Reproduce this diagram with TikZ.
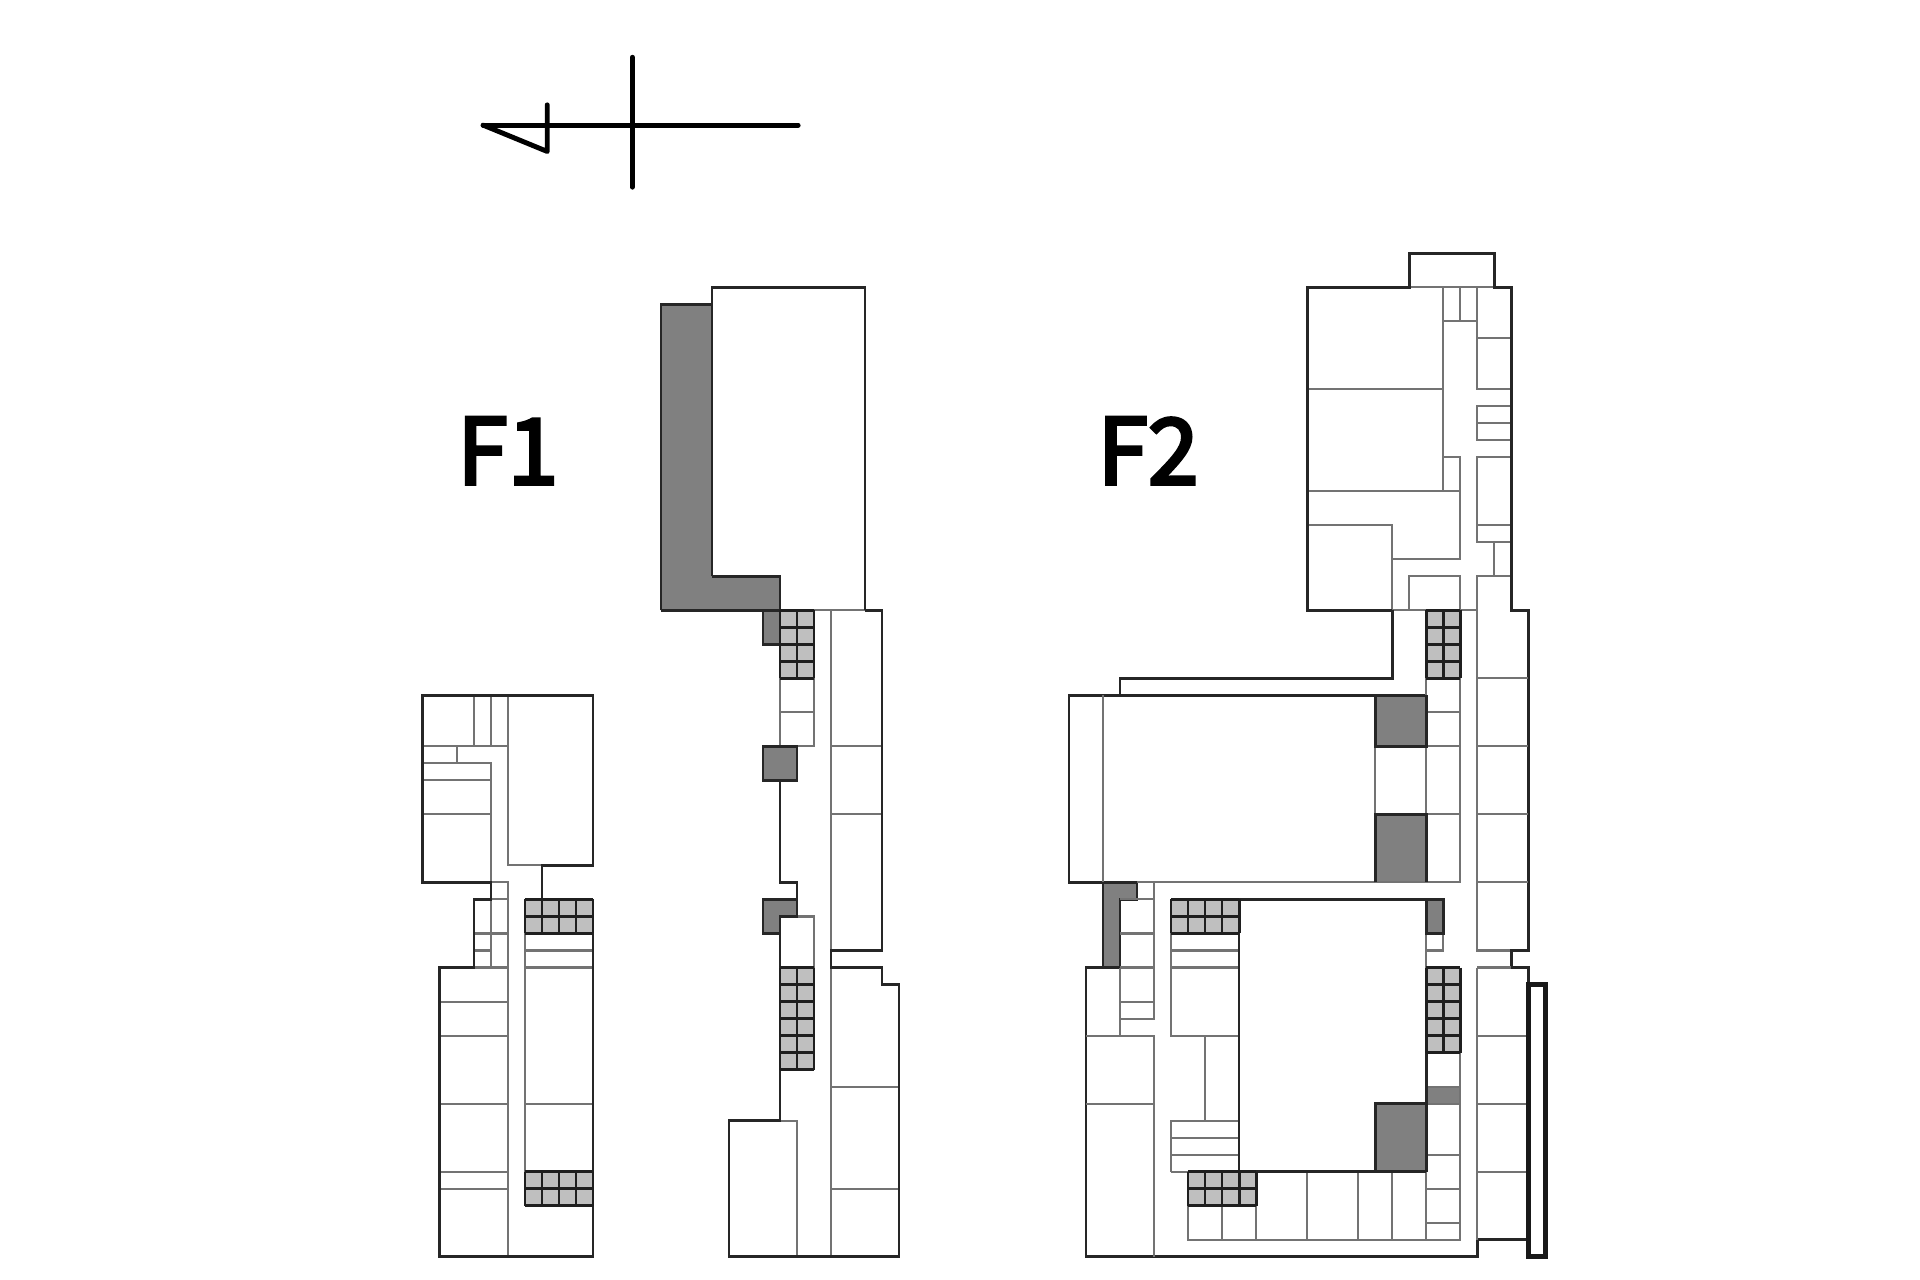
\documentclass[tikz,border=0pt]{standalone}
\usepackage{fontspec}
\newfontfamily\planfont[FakeBold=3.6]{Noto Sans CJK JP}
\usepackage{xcolor}
\definecolor{darkroom}{gray}{0.5}
\definecolor{stairroom}{gray}{0.75}
\tikzset{
  wall/.style={line width=0.7pt,black!85},
  part/.style={line width=0.57pt,black!55},
  stairline/.style={line width=0.72pt,black!88},
  northline/.style={line width=1.4pt,black,line cap=round,line join=round},
  floorlabel/.style={font=\planfont\fontsize{26}{26}\selectfont,inner sep=0pt}
}

\begin{document}
\begin{tikzpicture}[x=1.701mm,y=-1.7mm]
  \useasboundingbox (-24.85,-14.91) rectangle (88.02,60.38);
  % rumbo
  \begin{scope}
    \coordinate (ntip) at (3.55,-7.55);
    \draw[northline] (ntip) -- (22.07,-7.55);
    \draw[northline] (12.32,-11.54) -- (12.32,-3.9);
    \draw[northline] (7.32,-8.74) -- (7.32,-6) -- (ntip);
  \end{scope}
  \node[floorlabel] (floorone) at (5,11.6) {F1};
  \node[floorlabel] (floortwo) at (42.64,11.6) {F2};
  % salas oscuras
  \foreach \p in {
    {(14,3) -- (17,3) -- (17,19) -- (21,19) -- (21,21) -- (14,21) -- cycle},
    {(20,21) -- (21,21) -- (21,23) -- (20,23) -- cycle},
    {(20,29) -- (22,29) -- (22,31) -- (20,31) -- cycle},
    {(20,38) -- (22,38) -- (22,39) -- (21,39) -- (21,40) -- (20,40) -- cycle},
    {(56,26) -- (59,26) -- (59,29) -- (56,29) -- cycle},
    {(56,33) -- (59,33) -- (59,37) -- (56,37) -- cycle},
    {(40,37) -- (42,37) -- (42,38) -- (41,38) -- (41,42) -- (40,42) -- cycle},
    {(59,38) -- (60,38) -- (60,40) -- (59,40) -- cycle},
    {(56,50) -- (59,50) -- (59,54) -- (56,54) -- cycle},
    {(59,49) -- (61,49) -- (61,50) -- (59,50) -- cycle}}{
    \fill[darkroom] \p;
  }
  % F1, ala izquierda
  \begin{scope}
    \draw[part] (3,26) -- (3,29);
    \draw[part] (4,26) -- (4,29);
    \draw[part] (5,26) -- (5,36) -- (7,36);
    \draw[part] (0,29) -- (5,29);
    \draw[part] (2,29) -- (2,30);
    \draw[part] (0,30) -- (4,30) -- (4,42);
    \draw[part] (0,31) -- (4,31);
    \draw[part] (0,33) -- (4,33);
    \draw[part] (4,37) -- (5,37) -- (5,59);
    \draw[part] (4,38) -- (5,38);
    \draw[part] (3,40) -- (5,40);
    \draw[part] (3,41) -- (4,41);
    \foreach \y in {42,44,46,50,54,55}{
      \draw[part] (1,\y) -- (5,\y);
    }
    \draw[part] (6,40) -- (6,54);
    \foreach \y in {41,42,50}{
      \draw[part] (6,\y) -- (10,\y);
    }
    \draw[wall] (7,38) -- (7,36) -- (10,36) -- (10,26) -- (0,26) -- (0,37) -- (4,37)
      -- (4,38) -- (3,38) -- (3,42) -- (1,42) -- (1,59) -- (10,59) -- (10,38);
  \end{scope}
  % F1, ala derecha
  \begin{scope}
    \draw[part] (23,21) -- (26,21);
    \draw[part] (21,25) -- (21,29) -- (23,29) -- (23,25);
    \draw[part] (21,27) -- (23,27);
    \draw[part] (24,21) -- (24,41);
    \draw[part] (24,42) -- (24,59);
    \draw[part] (24,29) -- (27,29);
    \draw[part] (24,33) -- (27,33);
    \draw[part] (24,49) -- (28,49);
    \draw[part] (24,55) -- (28,55);
    \draw[part] (21,42) -- (21,39) -- (23,39) -- (23,42);
    \draw[part] (21,51) -- (22,51) -- (22,59);
    \draw[wall] (14,21) -- (14,3) -- (17,3);
    \draw[wall] (17,19) -- (17,2) -- (26,2) -- (26,21);
    \draw[wall] (17,19) -- (21,19) -- (21,21) -- (14,21);
    \draw[wall] (21,21) -- (20,21) -- (20,23) -- (21,23);
    \draw[wall] (20,29) rectangle (22,31);
    \draw[wall] (21,31) -- (21,37) -- (22,37) -- (22,38) -- (20,38) -- (20,40) -- (21,40) -- (21,42);
    \draw[wall] (22,38) -- (22,39) -- (21,39) -- (21,40);
    \draw[wall] (21,48) -- (21,51) -- (18,51) -- (18,59) -- (28,59) -- (28,43) -- (27,43) -- (27,42)
      -- (24,42) -- (24,41) -- (27,41) -- (27,21) -- (26,21);
  \end{scope}
  % F2, bloque superior
  \begin{scope}
    \draw[part] (58,2) -- (63,2);
    \draw[part] (60,2) -- (60,14);
    \draw[part] (61,2) -- (61,4);
    \draw[part] (62,2) -- (62,8) -- (64,8);
    \draw[part] (60,4) -- (62,4);
    \draw[part] (62,5) -- (64,5);
    \draw[part] (64,9) -- (62,9) -- (62,11) -- (64,11);
    \draw[part] (62,10) -- (64,10);
    \draw[part] (64,12) -- (62,12) -- (62,17) -- (64,17);
    \draw[part] (62,16) -- (64,16);
    \draw[part] (63,17) -- (63,19);
    \draw[part] (52,8) -- (60,8);
    \draw[part] (52,14) -- (61,14);
    \draw[part] (60,12) -- (61,12) -- (61,18) -- (57,18);
    \draw[part] (52,16) -- (57,16) -- (57,21);
    \draw[part] (58,21) -- (58,19) -- (61,19) -- (61,21);
    \draw[part] (64,19) -- (62,19) -- (62,41) -- (64,41);
    \draw[part] (57,21) -- (59,21);
    \draw[part] (61,21) -- (62,21);
    \draw[wall] (57,21) -- (52,21) -- (52,2) -- (58,2) -- (58,0) -- (63,0) -- (63,2) -- (64,2)
      -- (64,21) -- (65,21) -- (65,41) -- (64,41) -- (64,42) -- (65,42) -- (65,58) -- (62,58)
      -- (62,59) -- (39,59) -- (39,42) -- (41,42);
    \draw[wall] (57,21) -- (57,25) -- (41,25) -- (41,26);
    \draw[wall] (59,26) -- (38,26) -- (38,37) -- (42,37) -- (42,38) -- (41,38) -- (41,42) -- (40,42) -- (40,37);
  \end{scope}
  % F2, bloque inferior
  \begin{scope}
    \draw[part] (40,26) -- (40,37);
    \draw[part] (42,37) -- (61,37) -- (61,25);
    \draw[part] (59,25) -- (59,37);
    \foreach \y in {27,29,33}{
      \draw[part] (59,\y) -- (61,\y);
    }
    \draw[part] (56,29) -- (56,33);
    \foreach \y in {25,29,33,37}{
      \draw[part] (62,\y) -- (65,\y);
    }
    \draw[part] (62,42) -- (62,58);
    \draw[part] (62,42) -- (64,42);
    \foreach \y in {46,50,54}{
      \draw[part] (62,\y) -- (65,\y);
    }
    \draw[part] (41,38) -- (43,38);
    \draw[part] (41,40) -- (43,40);
    \draw[part] (41,42) -- (43,42);
    \draw[part] (41,44) -- (43,44);
    \draw[part] (41,45) -- (43,45) -- (43,37);
    \draw[part] (41,42) -- (41,46);
    \draw[part] (39,46) -- (43,46) -- (43,59);
    \draw[part] (39,50) -- (43,50);
    \draw[part] (44,40) -- (44,46) -- (48,46);
    \draw[part] (44,41) -- (48,41);
    \draw[part] (44,42) -- (48,42);
    \draw[part] (46,46) -- (46,51);
    \draw[part] (44,54) -- (44,51) -- (48,51);
    \draw[part] (44,52) -- (48,52);
    \draw[part] (44,53) -- (48,53);
    \draw[part] (44,54) -- (45,54);
    \draw[part] (59,40) -- (59,42);
    \draw[part] (59,41) -- (60,41) -- (60,40);
    \draw[part] (59,47) -- (59,58);
    \draw[part] (61,47) -- (61,58) -- (45,58) -- (45,56);
    \foreach \y in {49,50,53,55,57}{
      \draw[part] (59,\y) -- (61,\y);
    }
    \foreach \x in {47,49}{
      \draw[part] (\x,56) -- (\x,58);
    }
    \foreach \x in {52,55,57}{
      \draw[part] (\x,54) -- (\x,58);
    }
    \draw[wall] (48,40) -- (48,54) -- (59,54);
    \draw[wall] (48,38) -- (60,38) -- (60,40) -- (59,40) -- (59,38);
    \draw[wall] (56,26) -- (56,29) -- (59,29) -- (59,26);
    \draw[wall] (56,37) -- (56,33) -- (59,33) -- (59,37);
    \draw[wall] (56,54) -- (56,50) -- (59,50) -- (59,54);
    \draw[line width=1.2pt,black!90] (65,43) rectangle (66,59);
    \draw[wall] (59,50) -- (59,47);
  \end{scope}
  % escaleras
  \foreach \a/\b/\c/\d in {6/38/10/40,6/54/10/56,21/21/23/25,21/42/23/48,
    44/38/48/40,59/21/61/25,59/42/61/47,45/54/49/56}{
    \fill[stairroom] (\a,\b) rectangle (\c,\d);
    \foreach \k in {\a,...,\c}{
      \draw[stairline] (\k,\b) -- (\k,\d);
    }
    \foreach \k in {\b,...,\d}{
      \draw[stairline] (\a,\k) -- (\c,\k);
    }
  }
\end{tikzpicture}
\end{document}
